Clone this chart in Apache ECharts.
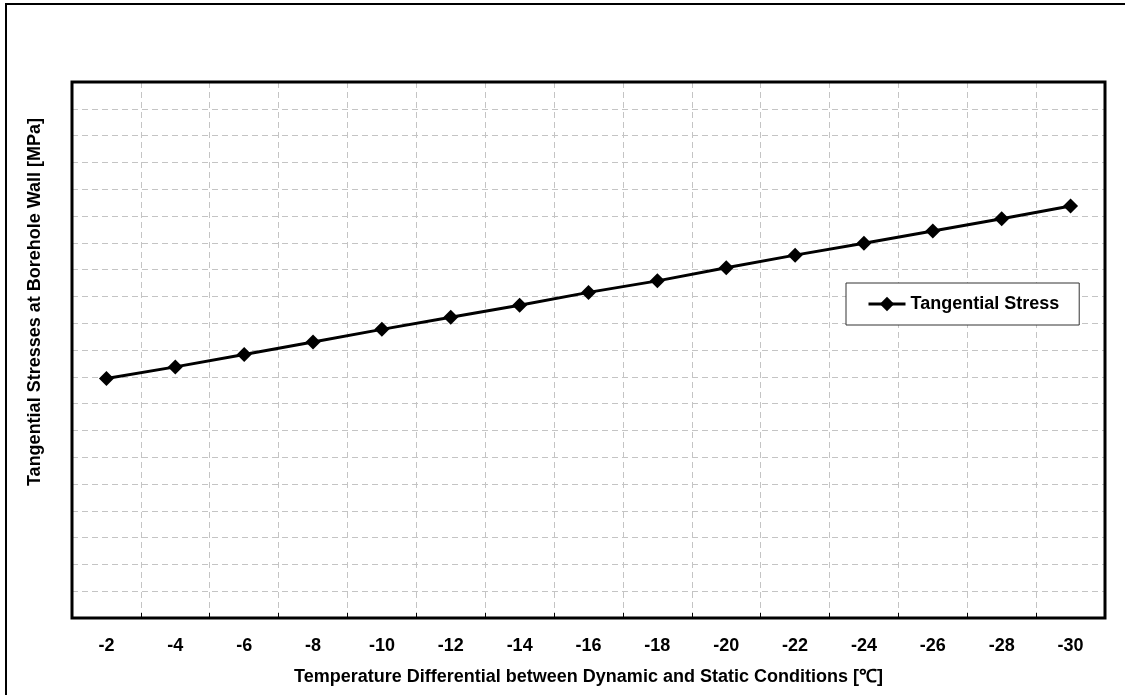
<!DOCTYPE html>
<html>
<head>
<meta charset="utf-8">
<script src="https://cdn.jsdelivr.net/npm/echarts@6/dist/echarts.min.js"></script>
<style>
  html, body { margin: 0; padding: 0; background: #fff; }
  #chart { width: 1125px; height: 695px; }
</style>
</head>
<body>
<div id="chart"></div>
<script>
  // temperature differential categories (x axis)
  const categories = ['-2', '-4', '-6', '-8', '-10', '-12', '-14', '-16', '-18', '-20', '-22', '-24', '-26', '-28', '-30']
  // tangential stress (y axis has no labels, one grid step = 1)
  const stressValues = [8.94, 9.37, 9.83, 10.30, 10.77, 11.22, 11.67, 12.15, 12.58, 13.07, 13.54, 13.98, 14.44, 14.90, 15.37]
  const seriesName = 'Tangential Stress'
  const xTitle = 'Temperature Differential between Dynamic and Static Conditions [℃]'
  const yTitle = 'Tangential Stresses at Borehole Wall [MPa]'

  const font = "'Liberation Sans', Arial, sans-serif"
  const gridBox = { left: 72, right: 20, top: 82, bottom: 77 }
  const chart = echarts.init(document.getElementById('chart'))

  chart.setOption({
    animation: false,
    textStyle: { fontFamily: font },
    grid: {
      left: gridBox.left,
      right: gridBox.right,
      top: gridBox.top,
      bottom: gridBox.bottom,
      show: true,
      borderWidth: 0,
      backgroundColor: '#fff'
    },
    legend: {
      data: [seriesName],
      left: 846,
      top: 283,
      orient: 'horizontal',
      padding: [12, 20, 12, 21],
      itemWidth: 37,
      itemHeight: 18,
      itemGap: 5,
      backgroundColor: '#fff',
      borderColor: '#333',
      borderWidth: 1,
      lineStyle: { width: 3 },
      textStyle: { fontFamily: font, fontWeight: 'bold', fontSize: 18, color: '#000' }
    },
    xAxis: {
      type: 'category',
      data: categories,
      boundaryGap: true,
      name: xTitle,
      nameLocation: 'middle',
      nameGap: 50,
      nameTextStyle: { fontFamily: font, fontWeight: 'bold', fontSize: 18, color: '#000' },
      axisLine: { show: false },
      axisTick: { show: true, inside: true, length: 5, lineStyle: { color: '#000', width: 1 } },
      axisLabel: { margin: 19, fontFamily: font, fontWeight: 'bold', fontSize: 18, color: '#000' },
      splitLine: { show: true, lineStyle: { color: '#c4c4c4', type: [6, 4], width: 1 } }
    },
    yAxis: {
      type: 'value',
      min: 0,
      max: 20,
      interval: 1,
      axisLine: { show: false },
      axisTick: { show: false },
      axisLabel: { show: false },
      splitLine: { show: true, lineStyle: { color: '#c4c4c4', type: [6, 4], width: 1 } }
    },
    graphic: [
      {
        // outer chart border (right and bottom edges fall outside the picture)
        type: 'rect',
        silent: true,
        shape: { x: 6, y: 4, width: 1140, height: 720 },
        style: { fill: 'none', stroke: '#000', lineWidth: 2 },
        z: 100
      },
      {
        // plot area frame, drawn over the dashed grid
        type: 'rect',
        silent: true,
        shape: { x: gridBox.left, y: gridBox.top, width: 1125 - gridBox.left - gridBox.right, height: 695 - gridBox.top - gridBox.bottom },
        style: { fill: 'none', stroke: '#000', lineWidth: 3 },
        z: 1
      },
      {
        type: 'text',
        x: 35,
        y: 302,
        rotation: Math.PI / 2,
        style: {
          text: yTitle,
          fontFamily: font,
          fontWeight: 'bold',
          fontSize: 18,
          fill: '#000',
          align: 'center',
          verticalAlign: 'middle'
        }
      }
    ],
    series: [
      {
        name: seriesName,
        type: 'line',
        data: stressValues,
        symbol: 'diamond',
        symbolSize: 15,
        itemStyle: { color: '#000' },
        lineStyle: { color: '#000', width: 3 }
      }
    ]
  })
</script>
</body>
</html>
